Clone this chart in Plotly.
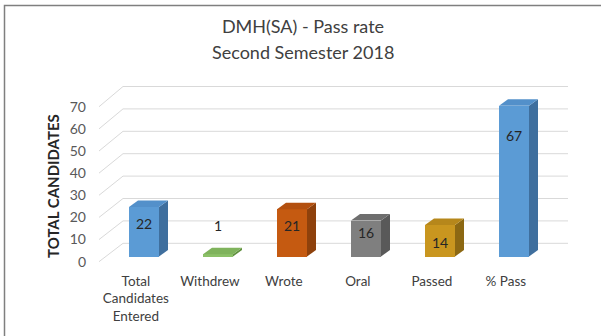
import plotly.graph_objects as go

# ---- data ----
categories = ["Total<br>Candidates<br>Entered", "Withdrew", "Wrote", "Oral", "Passed", "% Pass"]
values = [22, 1, 21, 16, 14, 67]
y_ticks = [0, 10, 20, 30, 40, 50, 60, 70]

# ---- styling ----
front_colors = ["#5B9BD5", "#8CC168", "#C55A11", "#7F7F7F", "#C9961F", "#5B9BD5"]
side_colors = ["#3F6F9E", "#5F8F3E", "#8E410C", "#595959", "#8C6813", "#3F6F9E"]
top_colors = ["#5390CA", "#7FB35C", "#B3500F", "#6E6E6E", "#B6871B", "#5390CA"]
label_yshift = [-16, 29, -16, -12, -17, -30]

W, H = 601, 336
FONT = "Lato"
TXT = "#404040"
GRID = "#D9D9D9"

# pixel geometry of the pseudo-3D projection
PX_CAT, X0 = 74.0, 144.0          # px per category, px of first category
PX_UNIT, BASE_PX = 2.25, 256.5    # bar scale and bar-base pixel row
BAR_W = 30 / PX_CAT               # bar width in category units
DX = 9 / PX_CAT                   # depth offset (x)
DY = 6.5 / PX_UNIT                # depth offset (y)

FRONT_PX0, FRONT_SCALE = 261.7, 2.214   # front plane (tick label) mapping
BACK_PX0, BACK_SCALE = 243.3, 2.24      # back wall mapping
WALL_X0 = (123 - X0) / PX_CAT
WALL_X1 = (568 - X0) / PX_CAT
FRONT_X = (99 - X0) / PX_CAT


def px_to_unit(py):
    return (BASE_PX - py) / PX_UNIT


x_range = [-X0 / PX_CAT, (W - X0) / PX_CAT]
y_range = [px_to_unit(H), px_to_unit(0)]
y2_range = [(FRONT_PX0 - H) / FRONT_SCALE, FRONT_PX0 / FRONT_SCALE]

fig = go.Figure()

# back wall gridlines and the diagonal floor/wall edges
shapes = []
for v in y_ticks:
    yb = px_to_unit(BACK_PX0 - BACK_SCALE * v)
    yf = px_to_unit(FRONT_PX0 - FRONT_SCALE * v)
    shapes.append(dict(type="line", xref="x", yref="y", layer="below",
                       x0=WALL_X0, x1=WALL_X1, y0=yb, y1=yb,
                       line=dict(color=GRID, width=1)))
    shapes.append(dict(type="line", xref="x", yref="y", layer="below",
                       x0=FRONT_X, x1=WALL_X0, y0=yf, y1=yb,
                       line=dict(color=GRID, width=1)))

# chart border
shapes.append(dict(type="rect", xref="paper", yref="paper",
                   x0=4.5 / W, x1=1.05, y0=-0.05, y1=1 - 5.5 / H,
                   line=dict(color="#7F7F7F", width=1.5)))

xs = list(range(len(values)))

# front faces
fig.add_trace(go.Bar(x=xs, y=values, base=0, width=BAR_W,
                     marker=dict(color=front_colors, line=dict(width=0)),
                     hoverinfo="skip", showlegend=False))

# side and top faces
for i, v in zip(xs, values):
    r = i + BAR_W / 2
    l = i - BAR_W / 2
    fig.add_trace(go.Scatter(
        x=[r, r + DX, r + DX, r, r], y=[0, DY, v + DY, v, 0],
        fill="toself", fillcolor=side_colors[i], mode="lines",
        line=dict(width=0, color=side_colors[i]),
        hoverinfo="skip", showlegend=False))
    fig.add_trace(go.Scatter(
        x=[l, r, r + DX, l + DX, l], y=[v, v, v + DY, v + DY, v],
        fill="toself", fillcolor=top_colors[i], mode="lines",
        line=dict(width=0, color=top_colors[i]),
        hoverinfo="skip", showlegend=False))

# invisible trace to activate the tick-label axis
fig.add_trace(go.Scatter(x=[0], y=[0], yaxis="y2", mode="markers",
                         marker=dict(opacity=0), hoverinfo="skip", showlegend=False))

annotations = []
for i, v in zip(xs, values):
    annotations.append(dict(x=i, y=v, xref="x", yref="y", text=str(v),
                            showarrow=False, yshift=label_yshift[i],
                            font=dict(family=FONT, size=14, color="#262626")))

annotations.append(dict(x=53 / W, y=1 - 186 / H, xref="paper", yref="paper",
                        xanchor="center", yanchor="middle",
                        text="<b>TOTAL CANDIDATES</b>", textangle=-90, showarrow=False,
                        font=dict(family=FONT, size=15, color="#262626")))

annotations.append(dict(x=303 / W, y=1 - 51.5 / H, xref="paper", yref="paper",
                        text="Second Semester 2018", showarrow=False,
                        xanchor="center", yanchor="middle",
                        font=dict(family=FONT, size=18, color=TXT)))

fig.update_layout(
    width=W, height=H,
    margin=dict(l=0, r=0, t=0, b=0),
    paper_bgcolor="white", plot_bgcolor="white",
    title=dict(text="DMH(SA) - Pass rate",
               x=303 / W, xanchor="center", y=1 - 26.5 / H, yanchor="middle",
               font=dict(family=FONT, size=18, color=TXT)),
    xaxis=dict(range=x_range, tickvals=[i - 0.11 for i in xs], ticktext=categories,
               showgrid=False, zeroline=False, showline=False, ticks="",
               anchor="free", position=(H - 271) / H,
               tickfont=dict(family=FONT, size=13.5, color=TXT)),
    yaxis=dict(range=y_range, showgrid=False, zeroline=False, showline=False,
               showticklabels=False, ticks=""),
    yaxis2=dict(range=y2_range, overlaying="y", anchor="free", position=86 / W,
                side="left", tickvals=y_ticks, showgrid=False, zeroline=False,
                showline=False, ticks="",
                tickfont=dict(family=FONT, size=14, color="#595959")),
    shapes=shapes,
    annotations=annotations,
    bargap=0,
)

fig.write_html("out.html")
